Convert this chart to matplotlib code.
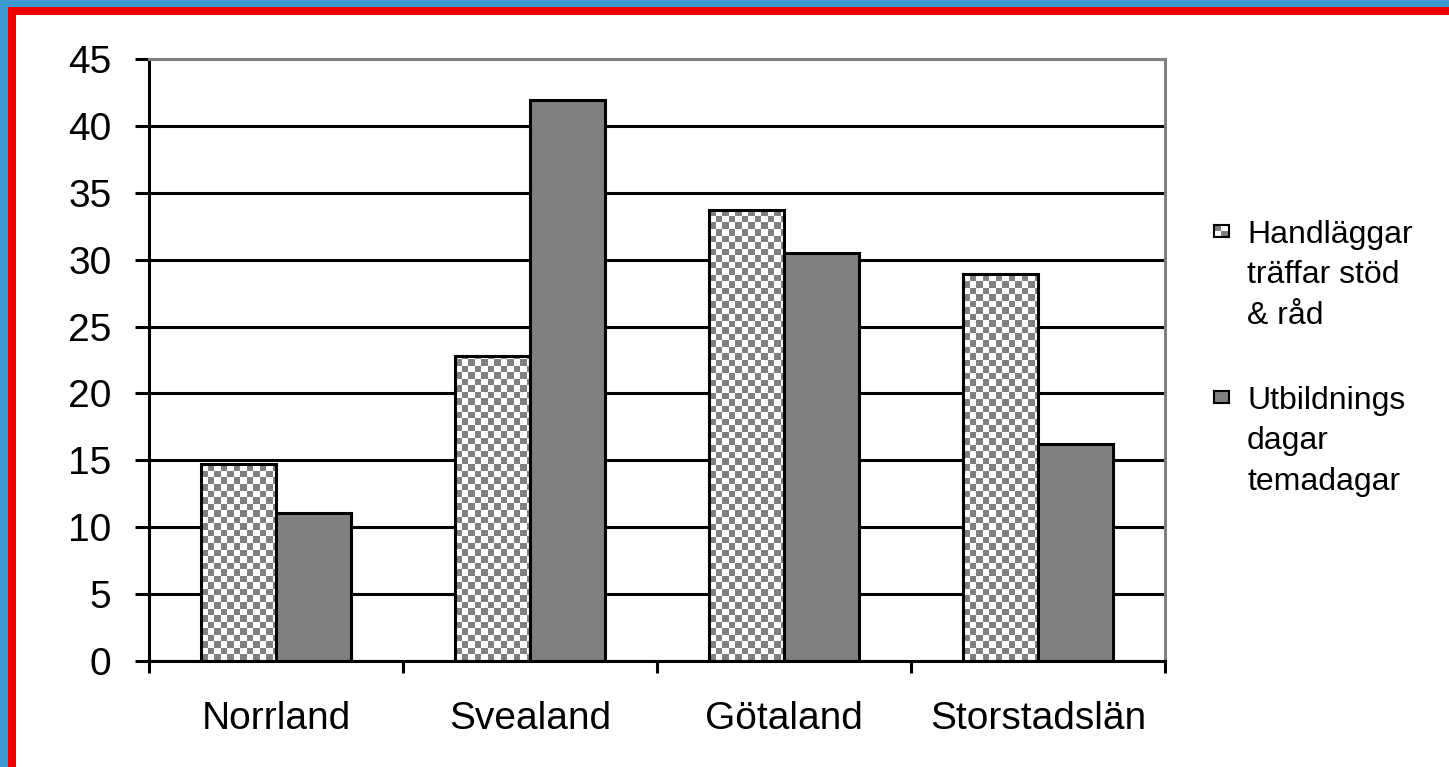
import matplotlib
matplotlib.use('Agg')
import matplotlib.pyplot as plt
import numpy as np
from matplotlib.patches import Rectangle
from matplotlib.colors import ListedColormap

# data
regioner = ['Norrland', 'Svealand', 'Götaland', 'Storstadslän']
handlaggar = [14.7, 22.8, 33.7, 28.9]
utbildning = [11.1, 41.9, 30.5, 16.2]
serie_namn = ['Handläggar\nträffar stöd\n& råd', 'Utbildnings\ndagar\ntemadagar']

plt.rcParams['font.family'] = ['Liberation Sans', 'DejaVu Sans']

GRA = '#808080'
BLA = '#3c9ad0'
ROD = '#ee0000'
W, H = 1449, 767
LW = 2.2

fig = plt.figure(figsize=(W / 100, H / 100), dpi=100)
fig.patch.set_facecolor('white')

# ramen (blå + röd)
fig.add_artist(Rectangle((0, 0), 8 / W, 1, transform=fig.transFigure, color=BLA, lw=0))
fig.add_artist(Rectangle((0, 1 - 7 / H), 1, 7 / H, transform=fig.transFigure, color=BLA, lw=0))
fig.add_artist(Rectangle((8 / W, 0), 8 / W, 1 - 7 / H, transform=fig.transFigure, color=ROD, lw=0))
fig.add_artist(Rectangle((8 / W, 1 - 15 / H), 1 - 8 / W, 8 / H, transform=fig.transFigure, color=ROD, lw=0))

ax_l, ax_r, ax_t, ax_b = 149, 1165, 59, 661
ax = fig.add_axes([ax_l / W, (H - ax_b) / H, (ax_r - ax_l) / W, (ax_b - ax_t) / H])

x = np.arange(len(regioner))
bw = 0.295

ax.set_xlim(-0.5, len(regioner) - 0.5)
ax.set_ylim(0, 45)
ax.set_yticks(np.arange(0, 46, 5))

# rutmönster (schackruta) för första serien
nx = int((ax_r - ax_l) / 6.5)
ny = int((ax_b - ax_t) / 6.5)
ii, jj = np.indices((ny, nx))
schack = (ii + jj) % 2
cmap = ListedColormap(['white', GRA])

staplar1 = ax.bar(x - bw / 2, handlaggar, bw, facecolor='none', edgecolor='black', linewidth=LW, zorder=2)
staplar2 = ax.bar(x + bw / 2, utbildning, bw, facecolor=GRA, edgecolor='black', linewidth=LW, zorder=2)

for st in staplar1:
    im = ax.imshow(schack, cmap=cmap, extent=(-0.5, len(regioner) - 0.5, 0, 45),
                   aspect='auto', interpolation='nearest', zorder=1.5)
    im.set_clip_path(st)

ax.set_axisbelow(True)
ax.yaxis.grid(True, color='black', linewidth=LW)

for s in ['left', 'bottom']:
    ax.spines[s].set_color('black')
    ax.spines[s].set_linewidth(LW)
for s in ['top', 'right']:
    ax.spines[s].set_color(GRA)
    ax.spines[s].set_linewidth(LW)

ax.tick_params(axis='y', length=10, width=LW, pad=17, labelsize=28, direction='out')
ax.set_xticks(x)
ax.set_xticklabels(regioner)
ax.set_xticks(np.arange(-0.5, len(regioner), 1), minor=True)
ax.tick_params(axis='x', which='major', length=0, pad=29, labelsize=28)
ax.tick_params(axis='x', which='minor', length=8.6, width=LW, direction='out')

# förklaring
tx = 1247
radavst = 41
baslinjer = [242, 408]  # första radens baslinje
for k, (namn, bl) in enumerate(zip(serie_namn, baslinjer)):
    nrad = namn.count('\n')
    # va='baseline' använder sista raden
    fig.text(tx / W, (H - (bl + nrad * radavst)) / H, namn, fontsize=23,
             va='baseline', ha='left', linespacing=1.46)
    mx = fig.add_axes([1214 / W, (H - (bl - 5)) / H, 15 / W, 12 / H])
    if k == 0:
        mx.imshow([[1, 0], [0, 1]], cmap=cmap, aspect='auto', interpolation='nearest')
    else:
        mx.set_facecolor(GRA)
    mx.set_xticks([])
    mx.set_yticks([])
    for s in mx.spines.values():
        s.set_color('black')
        s.set_linewidth(1.5)

fig.savefig('out.png', dpi=100)
